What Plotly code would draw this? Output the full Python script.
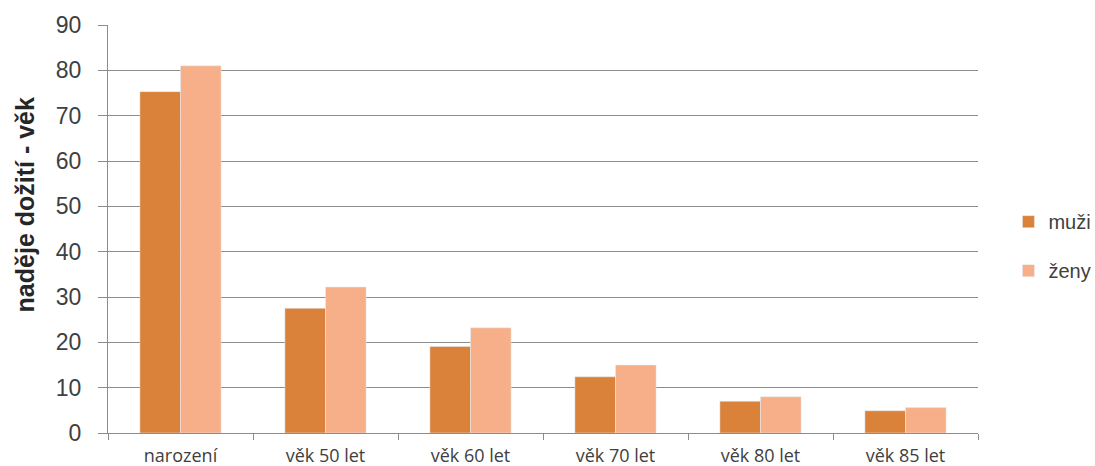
import plotly.graph_objects as go

categories = ["narození", "věk 50 let", "věk 60 let", "věk 70 let", "věk 80 let", "věk 85 let"]
muzi = [75.3, 27.5, 19.1, 12.4, 7.0, 4.9]
zeny = [81.0, 32.2, 23.2, 15.0, 8.0, 5.6]
y_ticks = [0, 10, 20, 30, 40, 50, 60, 70, 80, 90]
y_title = "naděje dožití - věk"

fig = go.Figure()
fig.add_trace(go.Bar(name="muži", x=categories, y=muzi, marker_color="#DA823A",
                     legendgroup="m"))
fig.add_trace(go.Bar(name="ženy", x=categories, y=zeny, marker_color="#F6AF88",
                     legendgroup="z"))

# vertical axis title, placed slightly above the plot's middle
fig.add_annotation(text=f"<b>{y_title}</b>", textangle=-90, showarrow=False,
                   xref="paper", yref="paper", x=-0.096, y=0.559,
                   xanchor="center", yanchor="middle",
                   font=dict(size=25, color="#262626"))

fig.update_layout(
    width=1095, height=466,
    margin=dict(l=108, r=117, t=25, b=33, autoexpand=False),
    paper_bgcolor="white", plot_bgcolor="white",
    barmode="group", bargap=0.44, bargroupgap=0,
    font=dict(family="Liberation Sans, Arial, sans-serif", color="#404040"),
    legend=dict(x=1.035, y=0.458, yanchor="middle", xanchor="left",
                font=dict(size=20, color="#404040"), tracegroupgap=20,
                itemwidth=30),
    xaxis=dict(
        showline=True, linecolor="#8c8c8c", linewidth=1,
        ticks="outside", tickson="boundaries", ticklen=6, tickcolor="#8c8c8c",
        tickfont=dict(family="Open Sans, sans-serif", size=18, color="#404040"),
        ticklabelstandoff=6, automargin=False,
    ),
    yaxis=dict(
        range=[0, 90], tickvals=y_ticks, showgrid=True, gridcolor="#8c8c8c", gridwidth=1,
        showline=True, linecolor="#8c8c8c", linewidth=1,
        ticks="outside", ticklen=9, tickcolor="#8c8c8c",
        tickfont=dict(size=23, color="#404040"), ticklabelstandoff=12,
        zeroline=False, automargin=False,
    ),
)

fig.write_html("out.html")
